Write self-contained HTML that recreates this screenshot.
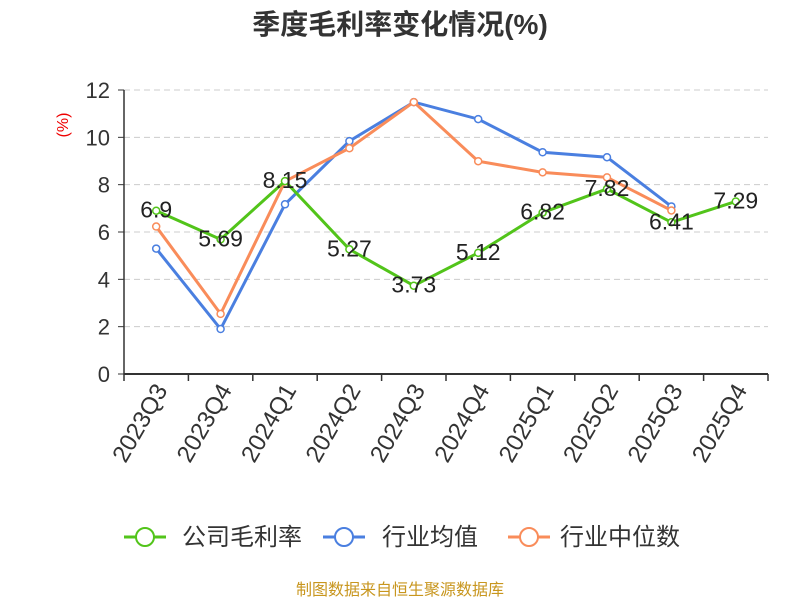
<!DOCTYPE html>
<html><head><meta charset="utf-8"><style>
body{margin:0;background:#fff;}
svg text{font-family:"Liberation Sans","Noto Sans CJK SC",sans-serif;}
</style></head><body>
<svg width="800" height="600" id="c">
<text x="400" y="34" text-anchor="middle" font-size="28" font-weight="bold" fill="#333">季度毛利率变化情况(%)</text>
<text transform="translate(68,125) rotate(-90)" text-anchor="middle" font-size="16" fill="#e00">(%)</text>
<g id="grid"></g><g id="axes"></g><g id="series"></g>
<g>
<g><line x1="124" y1="537" x2="166" y2="537" stroke="#52c41a" stroke-width="3"/><circle cx="145" cy="537" r="9" fill="#fff" stroke="#52c41a" stroke-width="2"/><text x="182" y="545" font-size="24" fill="#333">公司毛利率</text></g>
<g><line x1="323" y1="537" x2="365" y2="537" stroke="#4a7fe0" stroke-width="3"/><circle cx="344" cy="537" r="9" fill="#fff" stroke="#4a7fe0" stroke-width="2"/><text x="382" y="545" font-size="24" fill="#333">行业均值</text></g>
<g><line x1="508" y1="537" x2="550" y2="537" stroke="#f98c5a" stroke-width="3"/><circle cx="529" cy="537" r="9" fill="#fff" stroke="#f98c5a" stroke-width="2"/><text x="560" y="545" font-size="24" fill="#333">行业中位数</text></g>
</g>
<text x="400" y="595" text-anchor="middle" font-size="16" fill="#c8961e">制图数据来自恒生聚源数据库</text>
</svg>
<script>
const categories=["2023Q3","2023Q4","2024Q1","2024Q2","2024Q3","2024Q4","2025Q1","2025Q2","2025Q3","2025Q4"];
const companyValues=[6.9,5.69,8.15,5.27,3.73,5.12,6.82,7.82,6.41,7.29];
const industryAvg=[5.3,1.9,7.17,9.84,11.49,10.77,9.37,9.16,7.08,null];
const industryMedian=[6.23,2.54,8.14,9.54,11.49,8.99,8.52,8.31,6.91,null];
const yTicks=[0,2,4,6,8,10,12];
const NS="http://www.w3.org/2000/svg";
const x0=124,x1=768,y0=374,yTop=90,yMax=12;
const bw=(x1-x0)/categories.length;
const X=i=>x0+bw*(i+0.5);
const Y=v=>y0-(v/yMax)*(y0-yTop);
function mk(tag,attrs,parent){const e=document.createElementNS(NS,tag);for(const k in attrs)e.setAttribute(k,attrs[k]);parent.appendChild(e);return e;}
const grid=document.getElementById('grid'),axes=document.getElementById('axes'),ser=document.getElementById('series');
yTicks.forEach(t=>{
 if(t>0){const g=mk('line',{x1:x0,x2:x1,y1:Y(t),y2:Y(t),stroke:'#ccc','stroke-dasharray':'6,4'},grid);
 
 }
 const tk=mk('line',{x1:x0-6,x2:x0,y1:Y(t),y2:Y(t),stroke:'#333'},axes);
 
 
 const lb=mk('text',{x:x0-14,y:Y(t)+8,'text-anchor':'end','font-size':22,fill:'#333'},axes);
 lb.textContent=t;
 
 
});
const ya=mk('line',{x1:x0,x2:x0,y1:yTop,y2:y0,stroke:'#333','stroke-width':1.5},axes);


const xa=mk('line',{x1:x0,x2:x1,y1:y0,y2:y0,stroke:'#333','stroke-width':2},axes);


for(let i=0;i<=categories.length;i++){const tk=mk('line',{x1:x0+bw*i,x2:x0+bw*i,y1:y0,y2:y0+7,stroke:'#333','stroke-width':1.5},axes);
 
 }
categories.forEach((c,i)=>{const t=mk('text',{transform:`translate(${X(i)+12},${y0+16}) rotate(-60)`,'text-anchor':'end','font-size':24,fill:'#333'},axes);
 t.textContent=c;
 
 });
function line(vals,color,name){
 const pts=vals.map((v,i)=>v==null?null:[X(i),Y(v)]).filter(p=>p);
 const pl=mk('polyline',{points:pts.map(p=>p.join(',')).join(' '),fill:'none',stroke:color,'stroke-width':3},ser);
 
 
 pts.forEach(p=>{const c=mk('circle',{cx:p[0],cy:p[1],r:3.5,fill:'#fff',stroke:color,'stroke-width':1.5},ser);
 
 });
}
line(industryAvg,'#4a7fe0','industry-avg');
line(industryMedian,'#f98c5a','industry-median');
line(companyValues,'#52c41a','company');
companyValues.forEach((v,i)=>{const t=mk('text',{x:X(i),y:Y(v)+7,'text-anchor':'middle','font-size':23,fill:'#222'},ser);
 t.textContent=v;
 
 });
</script>
</body></html>
